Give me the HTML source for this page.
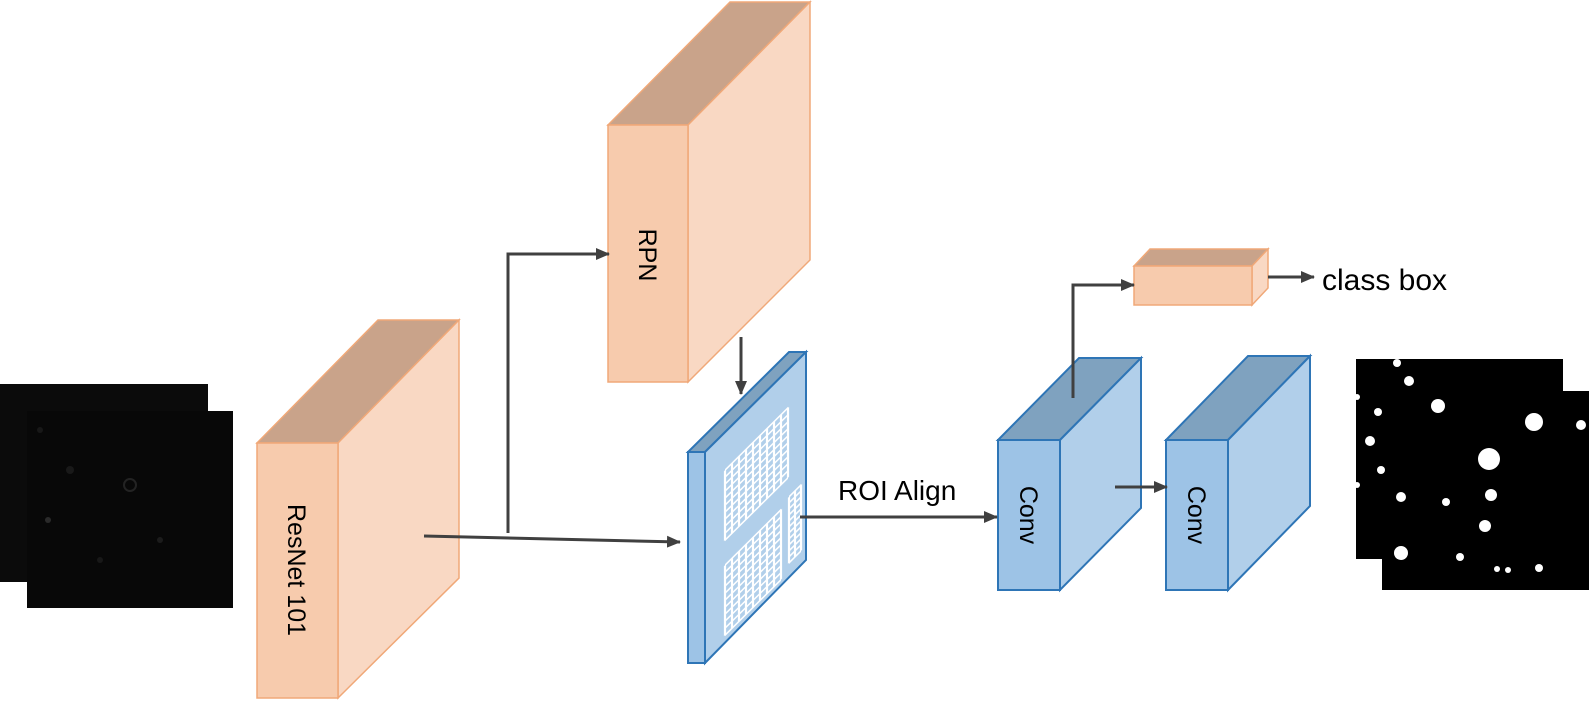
<!DOCTYPE html>
<html><head><meta charset="utf-8"><style>
html,body{margin:0;padding:0;background:#fff;}
svg{display:block;}
text{font-family:"Liberation Sans",sans-serif;fill:#000;}
</style></head><body>
<svg width="1589" height="710" viewBox="0 0 1589 710" xmlns="http://www.w3.org/2000/svg">
<defs>
<marker id="ah" markerWidth="14" markerHeight="12" refX="13" refY="6" orient="auto" markerUnits="userSpaceOnUse">
<path d="M0,0 L14,6 L0,12 z" fill="#404040"/></marker>
</defs>

<!-- left input images -->
<rect x="0" y="384" width="208" height="198" fill="#0b0b0b"/>
<rect x="27" y="411" width="206" height="197" fill="#080808"/>
<g opacity="0.8">
<circle cx="48" cy="520" r="3" fill="#333"/><circle cx="130" cy="485" r="6" fill="none" stroke="#2a2a2a" stroke-width="2"/>
<circle cx="70" cy="470" r="4" fill="#1e1e1e"/><circle cx="160" cy="540" r="3" fill="#222"/>
<circle cx="100" cy="560" r="3" fill="#1c1c1c"/><circle cx="40" cy="430" r="3" fill="#1c1c1c"/>
</g>

<!-- ResNet box -->
<g stroke="#f0a878" stroke-width="1.5">
<polygon points="257,443 338,443 459,320 378,320" fill="#c9a38a"/>
<polygon points="338,443 459,320 459,578 338,698" fill="#f9d8c3"/>
<rect x="257" y="443" width="81" height="255" fill="#f7cbad"/>
</g>
<text transform="translate(288,570) rotate(90)" font-size="25" text-anchor="middle">ResNet 101</text>

<!-- RPN box -->
<g stroke="#f0a878" stroke-width="1.5">
<polygon points="608,125 688,125 810,2 730,2" fill="#c9a38a"/>
<polygon points="688,125 810,2 810,260 688,382" fill="#f9d8c3"/>
<rect x="608" y="125" width="80" height="257" fill="#f7cbad"/>
</g>
<text transform="translate(639,255) rotate(90)" font-size="25" text-anchor="middle">RPN</text>

<!-- ROI plane -->
<g stroke="#2e75b6" stroke-width="2">
<polygon points="688,452 705,452 806,352 789,352" fill="#7fa2bf"/>
<polygon points="705,452 806,352 806,560 705,663" fill="#b1cfea"/>
<rect x="688" y="452" width="17" height="211" fill="#9dc3e6"/>
</g>
<g transform="matrix(1,-0.99,0,1,705,452)" stroke="#fff" stroke-width="2.2" fill="none">
<path d="M20,38V108M27,38V108M34,38V108M41,38V108M48,38V108M55,38V108M62,38V108M69,38V108M76,38V108M83,38V108
M20,38H83M20,45H83M20,52H83M20,59H83M20,66H83M20,73H83M20,80H83M20,87H83M20,94H83M20,101H83M20,108H83"/>
<path d="M20,133V203M27,133V203M34,133V203M41,133V203M48,133V203M55,133V203M62,133V203M69,133V203M76,133V203
M20,133H76M20,140H76M20,147H76M20,154H76M20,161H76M20,168H76M20,175H76M20,182H76M20,189H76M20,196H76M20,203H76"/>
<path d="M84,128V194M90,128V194M96,128V194
M84,128H96M84,134H96M84,140H96M84,146H96M84,152H96M84,158H96M84,164H96M84,170H96M84,176H96M84,182H96M84,188H96M84,194H96"/>
</g>

<!-- Conv 1 -->
<g stroke="#2e75b6" stroke-width="2">
<polygon points="998,440 1060,440 1141,358 1079,358" fill="#7fa2bf"/>
<polygon points="1060,440 1141,358 1141,508 1060,590" fill="#b1cfea"/>
<rect x="998" y="440" width="62" height="150" fill="#9dc3e6"/>
</g>
<text transform="translate(1020,515) rotate(90)" font-size="25" text-anchor="middle">Conv</text>

<!-- Conv 2 -->
<g stroke="#2e75b6" stroke-width="2">
<polygon points="1166,440 1228,440 1310,356 1248,356" fill="#7fa2bf"/>
<polygon points="1228,440 1310,356 1310,506 1228,590" fill="#b1cfea"/>
<rect x="1166" y="440" width="62" height="150" fill="#9dc3e6"/>
</g>
<text transform="translate(1188,515) rotate(90)" font-size="25" text-anchor="middle">Conv</text>

<!-- small box -->
<g stroke="#f0a878" stroke-width="1.5">
<polygon points="1134,266 1252,266 1268,249 1150,249" fill="#c9a38a"/>
<polygon points="1252,266 1268,249 1268,288 1252,305" fill="#f9d8c3"/>
<rect x="1134" y="266" width="118" height="39" fill="#f7cbad"/>
</g>

<!-- arrows -->
<g stroke="#404040" stroke-width="3" fill="none">
<line x1="424" y1="536" x2="680" y2="542" marker-end="url(#ah)"/>
<polyline points="508,533 508,254 609,254" marker-end="url(#ah)"/>
<line x1="741" y1="337" x2="741" y2="394" marker-end="url(#ah)"/>
<line x1="800" y1="517" x2="997" y2="517" marker-end="url(#ah)"/>
<polyline points="1073,398 1073,285 1134,285" marker-end="url(#ah)"/>
<line x1="1115" y1="487" x2="1167" y2="487" marker-end="url(#ah)"/>
<line x1="1268" y1="277" x2="1314" y2="277" marker-end="url(#ah)"/>
</g>
<text x="838" y="500" font-size="28">ROI Align</text>
<text x="1322" y="290" font-size="30">class box</text>

<!-- output masks -->
<rect x="1382" y="391" width="207" height="199" fill="#000"/>
<rect x="1356" y="359" width="207" height="200" fill="#000"/>
<g fill="#fff">
<circle cx="1397" cy="363" r="4"/><circle cx="1409" cy="381" r="5"/><circle cx="1438" cy="406" r="7"/>
<circle cx="1378" cy="412" r="4"/><circle cx="1370" cy="441" r="5"/><circle cx="1381" cy="470" r="4"/>
<circle cx="1401" cy="497" r="5"/><circle cx="1446" cy="502" r="4"/><circle cx="1489" cy="459" r="11"/>
<circle cx="1491" cy="495" r="6"/><circle cx="1485" cy="526" r="6"/><circle cx="1534" cy="422" r="9"/>
<circle cx="1581" cy="425" r="5"/><circle cx="1401" cy="553" r="7"/><circle cx="1460" cy="557" r="4"/>
<circle cx="1497" cy="569" r="3"/><circle cx="1508" cy="570" r="3"/><circle cx="1539" cy="568" r="4"/>
<circle cx="1357" cy="397" r="3"/><circle cx="1357" cy="485" r="3"/>
</g>
</svg>
</body></html>
